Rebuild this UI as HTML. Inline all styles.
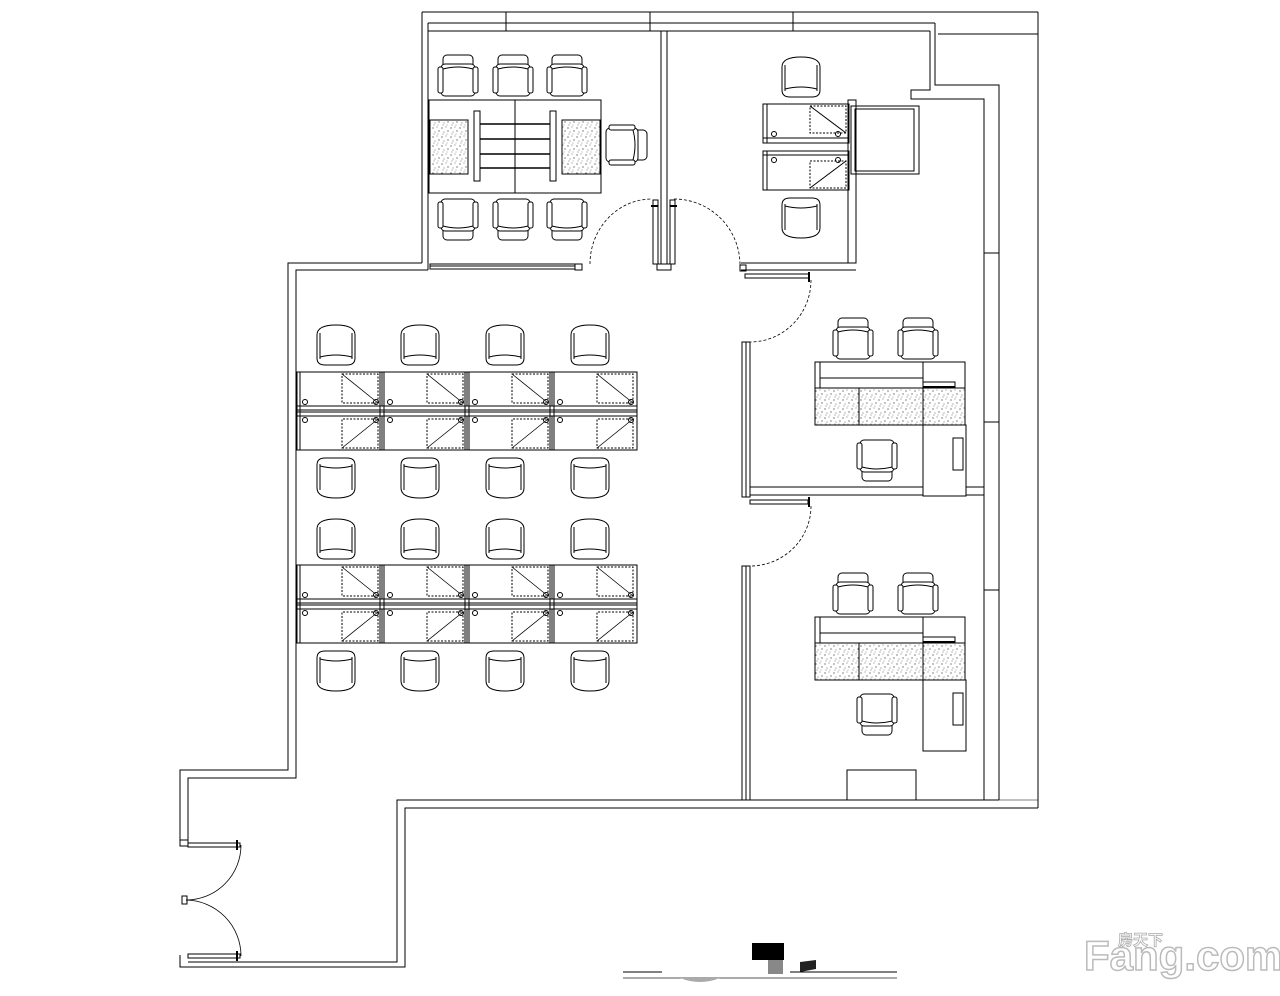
<!DOCTYPE html>
<html><head><meta charset="utf-8"><style>
html,body{margin:0;padding:0;background:#fff;}
svg{display:block;}
</style></head><body>
<svg width="1280" height="996" viewBox="0 0 1280 996" xmlns="http://www.w3.org/2000/svg">
<defs>
<pattern id="dots" width="9" height="9" patternUnits="userSpaceOnUse">
<rect width="9" height="9" fill="#fff"/>
<circle cx="1" cy="2" r="0.6" fill="#333"/><circle cx="5" cy="1" r="0.5" fill="#555"/>
<circle cx="7" cy="5" r="0.6" fill="#333"/><circle cx="3" cy="6" r="0.5" fill="#444"/>
<circle cx="2" cy="8" r="0.5" fill="#555"/><circle cx="6" cy="8" r="0.4" fill="#333"/>
</pattern>
<g id="armchair" fill="#fff" stroke="#000" stroke-width="1">
<path d="M2 10 Q2 0 21 0 Q40 0 40 10 L40 33 Q40 40 32 40 L10 40 Q2 40 2 33Z"/>
<path d="M5 8 L5 34 M37 8 L37 34" fill="none"/>
<path d="M5 32 Q21 28 37 32" fill="none"/>
</g>
<g id="ochair" fill="#fff" stroke="#000" stroke-width="1">
<rect x="5" y="0" width="30" height="14" rx="4"/>
<rect x="3" y="9" width="34" height="32" rx="4"/>
<rect x="0" y="12" width="5" height="26" rx="2"/>
<rect x="35" y="12" width="5" height="26" rx="2"/>
<path d="M5 14 Q20 10 35 14" fill="none"/>
</g>
<g id="desk" fill="none" stroke="#000" stroke-width="1">
<rect x="0" y="0" width="85" height="34"/>
<rect x="45" y="2" width="36" height="29" stroke-dasharray="2,1.5"/>
<line x1="45" y1="2" x2="81" y2="31" stroke-width="0.8"/>
<circle cx="8" cy="30" r="2.5"/><circle cx="79" cy="30" r="2.5"/>
</g>
<g id="block" fill="none" stroke="#000">
<use href="#desk" x="0" y="0"/><use href="#desk" x="85" y="0"/><use href="#desk" x="170" y="0"/><use href="#desk" x="255" y="0"/>
<g transform="translate(0,78) scale(1,-1)"><use href="#desk" x="0" y="0"/><use href="#desk" x="85" y="0"/><use href="#desk" x="170" y="0"/><use href="#desk" x="255" y="0"/></g>
<rect x="0" y="34" width="340" height="10"/>
<line x1="0" y1="38" x2="340" y2="38"/><line x1="0" y1="40" x2="340" y2="40"/>
<line x1="3" y1="0" x2="3" y2="78"/>
<line x1="83" y1="0" x2="83" y2="78"/><line x1="87" y1="0" x2="87" y2="78"/>
<line x1="168" y1="0" x2="168" y2="78"/><line x1="172" y1="0" x2="172" y2="78"/>
<line x1="253" y1="0" x2="253" y2="78"/><line x1="257" y1="0" x2="257" y2="78"/>
</g>
<g id="edesk" stroke="#000" stroke-width="1">
<rect x="0" y="0" width="150" height="63" fill="#fff"/>
<line x1="5" y1="0" x2="5" y2="26" fill="none"/>
<line x1="5" y1="16" x2="108" y2="16"/>
<rect x="0" y="26" width="150" height="37" fill="url(#dots)"/>
<line x1="44" y1="26" x2="44" y2="63"/><line x1="108" y1="0" x2="108" y2="63"/>
<rect x="108" y="20" width="32" height="6" fill="#fff"/>
<line x1="108" y1="25" x2="140" y2="25" stroke-width="2"/>
<rect x="108" y="63" width="43" height="71" fill="#fff"/>
<rect x="138" y="76" width="10" height="32" fill="#fff"/>
</g>
</defs>

<g fill="none" stroke="#000" stroke-width="1">
<line x1="422" y1="12" x2="1038" y2="12"/>
<line x1="428" y1="23" x2="935" y2="23"/>
<line x1="428" y1="31" x2="930" y2="31"/>
<line x1="506" y1="12" x2="506" y2="31"/><line x1="650" y1="12" x2="650" y2="31"/><line x1="793" y1="12" x2="793" y2="31"/>
<line x1="1038" y1="12" x2="1038" y2="808"/>
<line x1="938" y1="34" x2="1038" y2="34"/>
<path d="M935 23 L935 85 L999 85 L999 800"/>
<path d="M930 31 L930 90 L911 90 L911 99 L984 99 L984 800"/>
<line x1="984" y1="253" x2="999" y2="253"/>
<line x1="984" y1="422" x2="999" y2="422"/>
<line x1="984" y1="590" x2="999" y2="590"/>
<line x1="422" y1="12" x2="422" y2="263"/>
<line x1="428" y1="23" x2="428" y2="270"/>
<path d="M422 263 L288 263 L288 770 L180 770 L180 845"/>
<path d="M428 270 L296 270 L296 778 L188 778 L188 845"/>
<rect x="180" y="840" width="8" height="6"/>
<path d="M180 955 L180 967 L405 967 L405 808 L1038 808"/>
<path d="M188 962 L397 962 L397 800 L999 800"/>
<line x1="742" y1="800" x2="1038" y2="800" stroke-width="0.5"/>
<rect x="182" y="896" width="5" height="8"/>
<rect x="188" y="843" width="52" height="4"/>
<rect x="188" y="954" width="52" height="4"/>
<path d="M241 845 A55 55 0 0 1 186 900" stroke-width="0.8"/>
<path d="M241 956 A56 56 0 0 0 186 900" stroke-width="0.8"/>
<line x1="237" y1="840" x2="237" y2="850" stroke-width="2"/>
<line x1="237" y1="951" x2="237" y2="961" stroke-width="2"/>
<rect x="430" y="264" width="145" height="5"/>
<line x1="430" y1="266" x2="575" y2="266"/>
<rect x="575" y="264" width="7" height="6"/>
<path d="M590 264 A62 65 0 0 1 652 199" stroke-dasharray="3,2" stroke-width="0.8"/>
<rect x="661" y="31" width="6" height="233"/>
<rect x="653" y="200" width="5" height="64"/>
<rect x="670" y="200" width="5" height="64"/>
<rect x="657" y="264" width="14" height="6"/>
<path d="M674 199 A66 66 0 0 1 740 265" stroke-dasharray="3,2" stroke-width="0.8"/>
<line x1="651" y1="206" x2="658" y2="206" stroke-width="2"/>
<line x1="670" y1="206" x2="677" y2="206" stroke-width="2"/>
<path d="M741 263 L856 263 L856 100 L848 100 L848 263"/>
<line x1="741" y1="270" x2="856" y2="270"/>
<rect x="740" y="265" width="6" height="6"/>
<rect x="745" y="274" width="64" height="4"/>
<line x1="809" y1="272" x2="809" y2="282" stroke-width="2"/>
<path d="M811 280 A61 62 0 0 1 750 342" stroke-dasharray="3,2" stroke-width="0.8"/>
<rect x="851" y="106" width="68" height="68"/>
<rect x="855" y="109" width="59" height="62"/>
<rect x="763" y="104" width="86" height="39"/>
<rect x="763" y="151" width="86" height="39"/>
<line x1="767" y1="104" x2="767" y2="143"/><line x1="767" y1="151" x2="767" y2="190"/>
<line x1="763" y1="138" x2="849" y2="138"/><line x1="763" y1="155" x2="849" y2="155"/>
<rect x="810" y="106" width="36" height="27" stroke-dasharray="2,1.5"/>
<line x1="810" y1="106" x2="846" y2="133"/>
<rect x="810" y="161" width="36" height="27" stroke-dasharray="2,1.5"/>
<line x1="810" y1="188" x2="846" y2="161"/>
<circle cx="774" cy="134" r="2.5"/><circle cx="838" cy="134" r="2.5"/>
<circle cx="774" cy="160" r="2.5"/><circle cx="838" cy="160" r="2.5"/>
<rect x="742" y="342" width="8" height="155"/>
<line x1="746" y1="342" x2="746" y2="497"/>
<line x1="750" y1="487" x2="984" y2="487"/>
<line x1="750" y1="495" x2="984" y2="495"/>
<rect x="750" y="500" width="58" height="4"/>
<line x1="809" y1="497" x2="809" y2="507" stroke-width="2"/>
<path d="M811 506 A61 60 0 0 1 750 566" stroke-dasharray="3,2" stroke-width="0.8"/>
<rect x="742" y="566" width="8" height="234"/>
<line x1="746" y1="566" x2="746" y2="800"/>
<rect x="847" y="770" width="69" height="30"/>
</g>

<g stroke="#000" stroke-width="1">
<rect x="429" y="100" width="172" height="93" fill="#fff"/>
<line x1="515" y1="100" x2="515" y2="193"/>
<rect x="430" y="120" width="38" height="54" fill="url(#dots)"/>
<rect x="562" y="120" width="38" height="54" fill="url(#dots)"/>
<rect x="474" y="111" width="6" height="70" fill="#fff"/>
<rect x="550" y="111" width="6" height="70" fill="#fff"/>
<g stroke-width="1.6"><line x1="480" y1="124" x2="550" y2="124"/><line x1="480" y1="139" x2="550" y2="139"/><line x1="480" y1="154" x2="550" y2="154"/><line x1="480" y1="168" x2="550" y2="168"/></g>
</g>
<use href="#ochair" x="438" y="55"/><use href="#ochair" x="493" y="55"/><use href="#ochair" x="547" y="55"/>
<g transform="translate(438,240) scale(1,-1)"><use href="#ochair" x="0" y="0"/></g>
<g transform="translate(493,240) scale(1,-1)"><use href="#ochair" x="0" y="0"/></g>
<g transform="translate(547,240) scale(1,-1)"><use href="#ochair" x="0" y="0"/></g>
<g transform="translate(647,125) rotate(90)"><use href="#ochair" x="0" y="0"/></g>

<use href="#armchair" x="780" y="57"/>
<g transform="translate(780,238) scale(1,-1)"><use href="#armchair" x="0" y="0"/></g>

<use href="#block" x="297" y="372"/>
<use href="#block" x="297" y="565"/>
<use href="#armchair" x="315" y="325"/><use href="#armchair" x="399" y="325"/><use href="#armchair" x="484" y="325"/><use href="#armchair" x="569" y="325"/>
<g transform="translate(0,956) scale(1,-1)">
<use href="#armchair" x="315" y="458"/><use href="#armchair" x="399" y="458"/><use href="#armchair" x="484" y="458"/><use href="#armchair" x="569" y="458"/>
</g>
<use href="#armchair" x="315" y="519"/><use href="#armchair" x="399" y="519"/><use href="#armchair" x="484" y="519"/><use href="#armchair" x="569" y="519"/>
<g transform="translate(0,1342) scale(1,-1)">
<use href="#armchair" x="315" y="651"/><use href="#armchair" x="399" y="651"/><use href="#armchair" x="484" y="651"/><use href="#armchair" x="569" y="651"/>
</g>

<use href="#edesk" x="815" y="362"/>
<use href="#ochair" x="833" y="318"/><use href="#ochair" x="898" y="318"/>
<g transform="translate(857,481) scale(1,-1)"><use href="#ochair" x="0" y="0"/></g>
<use href="#edesk" x="815" y="617"/>
<use href="#ochair" x="833" y="573"/><use href="#ochair" x="898" y="573"/>
<g transform="translate(857,735) scale(1,-1)"><use href="#ochair" x="0" y="0"/></g>

<rect x="752" y="943" width="32" height="17" fill="#000"/>
<rect x="768" y="960" width="15" height="14" fill="#888"/>
<path d="M800 962 L816 960 L816 969 L800 972Z" fill="#222"/>
<line x1="623" y1="972" x2="662" y2="972" stroke="#000"/>
<line x1="790" y1="972" x2="897" y2="972" stroke="#000"/>
<line x1="623" y1="978" x2="897" y2="978" stroke="#555"/>
<path d="M680 978 Q700 986 720 978" fill="#aaa"/>

<text x="1084" y="970" font-family="Liberation Sans, sans-serif" font-weight="bold" font-size="42" fill="#fff" stroke="#bbb" stroke-width="1.5">Fang.com</text>
<text x="1118" y="945" font-family="Liberation Sans, 'Noto Sans CJK SC', sans-serif" font-weight="bold" font-size="15" fill="#fff" stroke="#aaa" stroke-width="0.8">房天下</text>
</svg>
</body></html>
